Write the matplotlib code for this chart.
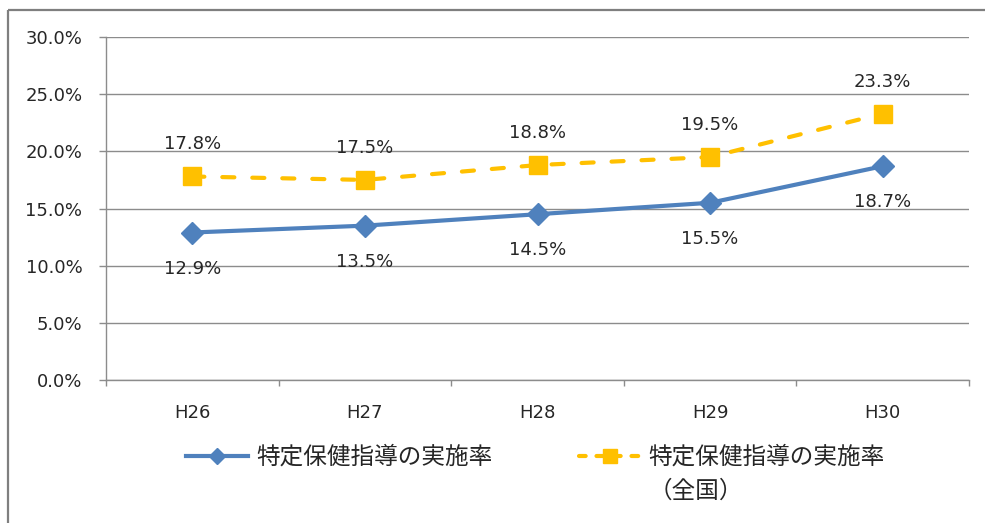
import matplotlib
matplotlib.use("Agg")
import matplotlib.pyplot as plt
from matplotlib.lines import Line2D

categories = ["H26", "H27", "H28", "H29", "H30"]
local_rate = [12.9, 13.5, 14.5, 15.5, 18.7]
national_rate = [17.8, 17.5, 18.8, 19.5, 23.3]
yticks = [0, 5, 10, 15, 20, 25, 30]
label_local = "特定保健指導の実施率"
label_national_1 = "特定保健指導の実施率"
label_national_2 = "（全国）"

plt.rcParams['font.family'] = ['Noto Sans CJK JP', 'DejaVu Sans']

W, H = 985, 523
fig = plt.figure(figsize=(W / 100, H / 100), dpi=100)
fig.patch.set_facecolor("white")

# outer frame (only left/top edges visible in reference)
frame_kw = dict(transform=fig.transFigure, color="#7f7f7f", linewidth=1.6, solid_capstyle="butt")
fig.add_artist(Line2D([8 / W, 8 / W], [-0.02, 1 - 10 / H], **frame_kw))
fig.add_artist(Line2D([8 / W, 1.02], [1 - 10 / H, 1 - 10 / H], **frame_kw))

ax = fig.add_axes([106 / W, 1 - 380 / H, (969 - 106) / W, (380 - 37) / H])
x = list(range(len(categories)))
blue = "#4F81BD"
orange = "#FFC000"
grid = "#8c8c8c"
txtcolor = "#262626"
num_font = ["DejaVu Sans"]
num_size = 13

dash = (0, (2.9, 4.3))
ax.plot(x, local_rate, color=blue, linewidth=3, marker="D", markersize=11,
        markeredgecolor=blue, markerfacecolor=blue, zorder=3, solid_capstyle="round")
ax.plot(x, national_rate, color=orange, linewidth=3, linestyle=dash, dash_capstyle="round",
        marker="s", markersize=13.5, markeredgecolor=orange, markerfacecolor=orange, zorder=3)

for xi, v in zip(x, local_rate):
    ax.annotate(f"{v:.1f}%", (xi, v), xytext=(0, -36), textcoords="offset pixels",
                ha="center", va="center", fontsize=num_size, color=txtcolor, family=num_font)
for xi, v in zip(x, national_rate):
    ax.annotate(f"{v:.1f}%", (xi, v), xytext=(0, 32), textcoords="offset pixels",
                ha="center", va="center", fontsize=num_size, color=txtcolor, family=num_font)

ax.set_xlim(-0.5, len(categories) - 0.5)
ax.set_ylim(0, 30)
ax.set_yticks(yticks)
ax.set_yticklabels([f"{t:.1f}%" for t in yticks], family=num_font, fontsize=num_size, color=txtcolor)
ax.yaxis.grid(True, color=grid, linewidth=1.0)
ax.set_axisbelow(True)

ax.set_xticks(x)
ax.set_xticklabels(categories, family=num_font, fontsize=num_size, color=txtcolor)
ax.set_xticks([i + 0.5 for i in range(-1, len(categories))], minor=True)
ax.tick_params(axis="x", which="major", length=0, pad=17)
ax.tick_params(axis="x", which="minor", length=4.5, color=grid, width=1.0, direction="out")
ax.tick_params(axis="y", length=5, color=grid, width=1.0, pad=12)

for s in ["top", "right"]:
    ax.spines[s].set_visible(False)
for s in ["left", "bottom"]:
    ax.spines[s].set_color(grid)
    ax.spines[s].set_linewidth(1.0)

handles = [
    Line2D([], [], color=blue, linewidth=3, marker="D", markersize=8, markerfacecolor=blue, markeredgecolor=blue),
    Line2D([], [], color=orange, linewidth=3, linestyle=(0, (1.6, 2.6)), dash_capstyle="round",
           marker="s", markersize=10, markerfacecolor=orange, markeredgecolor=orange),
]
leg_size = 17
leg = fig.legend(handles, [label_local, label_national_1], loc="upper left",
                 bbox_to_anchor=(186 / W, 1 - 446 / H), ncol=2, frameon=False,
                 fontsize=leg_size, handlelength=2.63, columnspacing=3.65, handletextpad=0.34,
                 borderpad=0, borderaxespad=0, labelcolor=txtcolor)

fig.canvas.draw()
t2 = leg.get_texts()[1]
bb = t2.get_window_extent()
fig.text(bb.x0 / W, (bb.y0 + bb.y1) / 2 / H - 34 / H, label_national_2, fontsize=leg_size,
         color=txtcolor, ha="left", va="center")

fig.savefig("out.png", dpi=100, facecolor="white")
